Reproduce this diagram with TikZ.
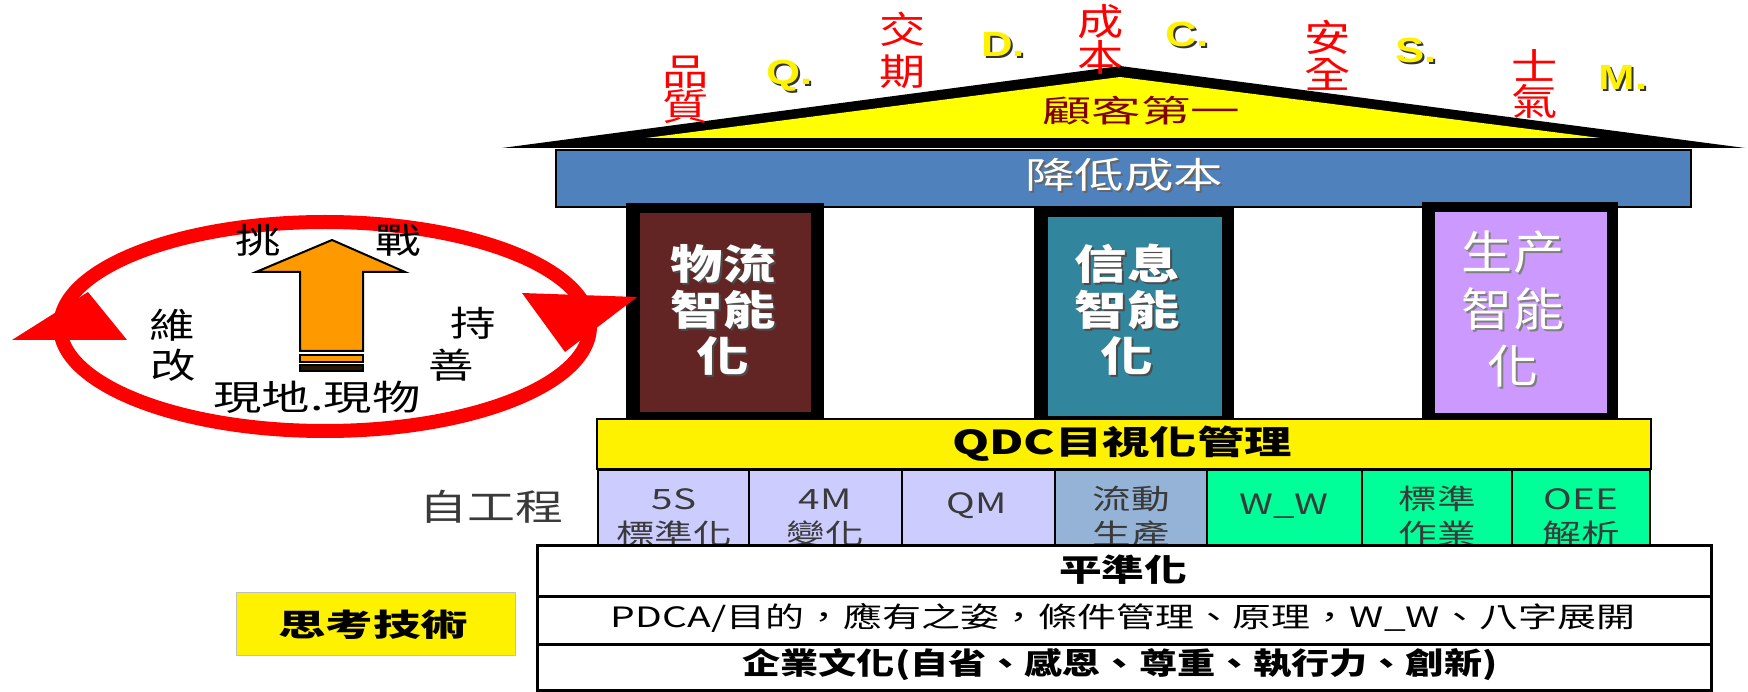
\documentclass[tikz,border=0pt]{standalone}
\usepackage{fontspec}
\usepackage{graphicx}
\setmainfont{Noto Sans CJK TC}
\newfontfamily\latb{Liberation Sans}
\newcommand\fsz[1]{\fontsize{#1}{#1}\selectfont}
\newcommand\sx[2]{\scalebox{#1}[1]{#2}}
\newcommand\rw[2]{\resizebox{#1}{\height}{#2}}
\newcommand\shd[3]{\rlap{\hspace{2pt}\raisebox{-2pt}{\color{#1}#3}}\textcolor{#2}{#3}}
\definecolor{roofy}{HTML}{FFFF00}
\definecolor{barblue}{HTML}{4F81BD}
\definecolor{pbrown}{HTML}{632523}
\definecolor{pteal}{HTML}{31859C}
\definecolor{plav}{HTML}{CC99FF}
\definecolor{clav}{HTML}{CCCCFF}
\definecolor{cgb}{HTML}{95B3D7}
\definecolor{cgreen}{HTML}{00FF99}
\definecolor{aor}{HTML}{FF9900}
\definecolor{darkred}{HTML}{800000}
\definecolor{tgray}{HTML}{3A3A3A}
\begin{document}
\begin{tikzpicture}[x=1pt,y=-1pt,
  txt/.style={inner sep=0pt,outer sep=0pt},
  redlab/.style={txt,text=red,font=\fsz{37}},
  ylet/.style={txt,font=\latb\bfseries\fsz{35}},
  ringlab/.style={txt,text=black,font=\fsz{35}},
  pilb/.style={txt,font=\bfseries\fsz{41}},
  pilr/.style={txt,font=\fsz{46}},
  celltxt/.style={txt,text=tgray,font=\fsz{28}},
  cellbox/.style={draw=black,line width=2.5pt},
  rowbox/.style={draw=black,line width=3pt,fill=white},
]
\useasboundingbox (0,0) rectangle (1748,692);
\fill[white] (0,0) rectangle (1748,692);

% roof
\fill[black] (502,148) -- (1120,66) -- (1745,148) -- cycle;
\fill[roofy] (646,138) -- (1120,77) -- (1600,138) -- cycle;

% blue bar
\draw[line width=2pt,fill=barblue] (556,150) rectangle (1691,207);

% pillars
\fill[black] (626,203) rectangle (824,420);
\fill[pbrown] (640,213) rectangle (811,412);
\fill[black] (1034,208) rectangle (1234,420);
\fill[pteal] (1048,217) rectangle (1222,416);
\fill[black] (1422,202) rectangle (1618,420);
\fill[plav] (1435,212) rectangle (1607,413);

% QDC bar
\draw[line width=2pt,fill=yellow] (597,419) rectangle (1651,469);

% cells
\draw[cellbox,fill=clav] (598,470) rectangle (749,545);
\draw[cellbox,fill=clav] (749,470) rectangle (902,545);
\draw[cellbox,fill=clav] (902,470) rectangle (1055,545);
\draw[cellbox,fill=cgb] (1055,470) rectangle (1207,545);
\draw[cellbox,fill=cgreen] (1207,470) rectangle (1362,545);
\draw[cellbox,fill=cgreen] (1362,470) rectangle (1512,545);
\draw[cellbox,fill=cgreen] (1512,470) rectangle (1650,545);

\node[celltxt] (c1a) at (674,499) {\sx{1.38}{5S}};
\node[celltxt] (c1b) at (674,534) {\sx{1.38}{標準化}};
\node[celltxt] (c2a) at (825,499) {\sx{1.38}{4M}};
\node[celltxt] (c2b) at (825,534) {\sx{1.38}{變化}};
\node[celltxt] (c3a) at (977,506) {\sx{1.38}{QM}};
\node[celltxt] (c4a) at (1131,499) {\sx{1.38}{流動}};
\node[celltxt] (c4b) at (1131,534) {\sx{1.38}{生產}};
\node[celltxt] (c5a) at (1284,506) {\sx{1.38}{W\_W}};
\node[celltxt] (c6a) at (1437,499) {\sx{1.38}{標準}};
\node[celltxt] (c6b) at (1437,534) {\sx{1.38}{作業}};
\node[celltxt] (c7a) at (1581,499) {\sx{1.38}{OEE}};
\node[celltxt] (c7b) at (1581,534) {\sx{1.38}{解析}};

% bottom rows
\draw[rowbox] (537,545) rectangle (1711,596);
\draw[rowbox] (537,596) rectangle (1711,644);
\draw[rowbox] (537,644) rectangle (1711,690);

% thinking box
\draw[draw=gray!50,line width=1pt,fill=yellow] (236,592) rectangle (515,655);

% cycle ellipse
\draw[red,line width=14pt] (325,326.5) ellipse [x radius=265, y radius=104.5];
\fill[red] (12,340) -- (127,340) -- (88,292) -- cycle;
\fill[red] (522,293) -- (637,297) -- (565,352) -- cycle;

% orange arrow
\draw[line width=2pt,fill=aor,line join=miter] (332,240) -- (405,272) -- (363,272) -- (363,351) -- (300,351) -- (300,272) -- (256,272) -- cycle;
\draw[line width=1.5pt,fill=aor] (300,355) rectangle (363,362);
\draw[line width=1.5pt,fill=black!85!aor] (300,365) rectangle (363,371);

% roof labels
\node[redlab] (l1a) at (686,72) {\sx{1.25}{品}};
\node[redlab] (l1b) at (686,107) {\sx{1.25}{質}};
\node[redlab] (l2a) at (903,29) {\sx{1.25}{交}};
\node[redlab] (l2b) at (903,72) {\sx{1.25}{期}};
\node[redlab] (l3a) at (1101,22) {\sx{1.25}{成}};
\node[redlab] (l3b) at (1101,57) {\sx{1.25}{本}};
\node[redlab] (l4a) at (1328,37) {\sx{1.25}{安}};
\node[redlab] (l4b) at (1328,74) {\sx{1.25}{全}};
\node[redlab] (l5a) at (1535,65) {\sx{1.25}{士}};
\node[redlab] (l5b) at (1535,101) {\sx{1.25}{氣}};

\node[ylet] (yq) at (790,77) {\shd{black!80}{yellow}{\sx{1.25}{Q.}}};
\node[ylet] (yd) at (1003,45) {\shd{black!80}{yellow}{\sx{1.25}{D.}}};
\node[ylet] (yc) at (1187,35) {\shd{black!80}{yellow}{\sx{1.25}{C.}}};
\node[ylet] (ys) at (1416,51) {\shd{black!80}{yellow}{\sx{1.25}{S.}}};
\node[ylet] (ym) at (1623,78) {\shd{black!80}{yellow}{\sx{1.25}{M.}}};

\node[txt,text=darkred,font=\fsz{31}] (guke) at (1141,111) {\rw{198pt}{顧客第一}};
\node[txt,font=\fsz{36}] (jiang) at (1124,176) {\shd{black!60}{white}{\rw{198pt}{降低成本}}};

% pillar texts
\node[pilb] (p1a) at (723,265) {\shd{black!70}{white}{\sx{1.28}{物流}}};
\node[pilb] (p1b) at (723,311) {\shd{black!70}{white}{\sx{1.28}{智能}}};
\node[pilb] (p1c) at (723,357) {\shd{black!70}{white}{\sx{1.28}{化}}};
\node[pilb] (p2a) at (1127,265) {\shd{black!70}{white}{\sx{1.28}{信息}}};
\node[pilb] (p2b) at (1127,311) {\shd{black!70}{white}{\sx{1.28}{智能}}};
\node[pilb] (p2c) at (1127,357) {\shd{black!70}{white}{\sx{1.28}{化}}};
\node[pilr] (p3a) at (1513,253) {\shd{black!50}{white}{\sx{1.11}{生产}}};
\node[pilr] (p3b) at (1513,310) {\shd{black!50}{white}{\sx{1.11}{智能}}};
\node[pilr] (p3c) at (1513,367) {\shd{black!50}{white}{\sx{1.11}{化}}};

\node[txt,font=\bfseries\fsz{33}] (qdc) at (1122,444) {\rw{340pt}{QDC目視化管理}};
\node[txt,text=tgray,font=\fsz{36}] (zgc) at (491,507) {\rw{144pt}{自工程}};

\node[txt,font=\bfseries\fsz{31}] (r1) at (1123,570) {\rw{128pt}{平準化}};
\node[txt,font=\fsz{28}] (r2) at (1123,618) {\rw{1024pt}{PDCA/目的，應有之姿，條件管理、原理，W\_W、八字展開}};
\node[txt,font=\bfseries\fsz{30}] (r3) at (1120,665) {\rw{755pt}{企業文化(自省、感恩、尊重、執行力、創新)}};
\node[txt,font=\bfseries\fsz{31}] (skjs) at (373,625) {\rw{190pt}{思考技術}};

% ring labels
\node[ringlab] (t1) at (258,240) {\sx{1.3}{挑}};
\node[ringlab] (t2) at (398,240) {\sx{1.3}{戰}};
\node[ringlab] (t3) at (172,325) {\sx{1.3}{維}};
\node[ringlab] (t4) at (173,365) {\sx{1.3}{改}};
\node[ringlab] (t5) at (473,323) {\sx{1.3}{持}};
\node[ringlab] (t6) at (451,365) {\sx{1.3}{善}};
\node[ringlab] (t7) at (317,397) {\rw{207pt}{現地.現物}};
\end{tikzpicture}
\end{document}
